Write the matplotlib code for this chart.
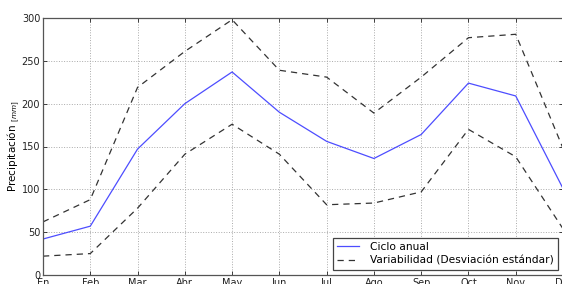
import matplotlib
matplotlib.use("Agg")
import matplotlib.pyplot as plt

months = ["En", "Feb", "Mar", "Abr", "May", "Jun", "Jul", "Ago", "Sep", "Oct", "Nov", "Dic"]
ciclo = [42, 57, 147, 200, 237, 190, 156, 136, 164, 224, 209, 101]
upper = [62, 88, 219, 261, 298, 239, 231, 189, 231, 277, 281, 148]
lower = [22, 25, 78, 141, 176, 141, 82, 84, 97, 170, 138, 54]
yticks = [0, 50, 100, 150, 200, 250, 300]

fig = plt.figure(figsize=(5.62, 2.84), dpi=100)
ax = fig.add_axes([43/562, 9/284, 520/562, 257/284])
x = list(range(len(months)))
ax.plot(x, ciclo, color="#4d4dff", lw=0.9, label="Ciclo anual")
ax.plot(x, upper, color="#333333", lw=0.9, ls=(0, (5, 4)), label="Variabilidad (Desviación estándar)")
ax.plot(x, lower, color="#333333", lw=0.9, ls=(0, (5, 4)))
ax.set_xlim(0, 11)
ax.set_ylim(0, 300)
ax.set_xticks(x)
ax.set_xticklabels(months)
ax.set_yticks(yticks)
ax.tick_params(direction="in", labelsize=7, length=3, width=0.6, colors="#222222", pad=2,
               top=True, right=True)
ax.grid(True, ls=":", color="#aaaaaa", lw=0.7)
for s in ax.spines.values():
    s.set_color("#555555")
    s.set_linewidth(0.9)
ax.set_ylabel("Precipitación $_{[mm]}$", fontsize=7.5, labelpad=0)
leg = ax.legend(loc="lower right", fontsize=7.7, fancybox=False, framealpha=1,
                edgecolor="#444444", borderaxespad=0.45, handlelength=2.1,
                handletextpad=1.0, labelspacing=0.35, borderpad=0.4)
leg.get_frame().set_linewidth(0.9)
fig.savefig("out.png", dpi=100)
